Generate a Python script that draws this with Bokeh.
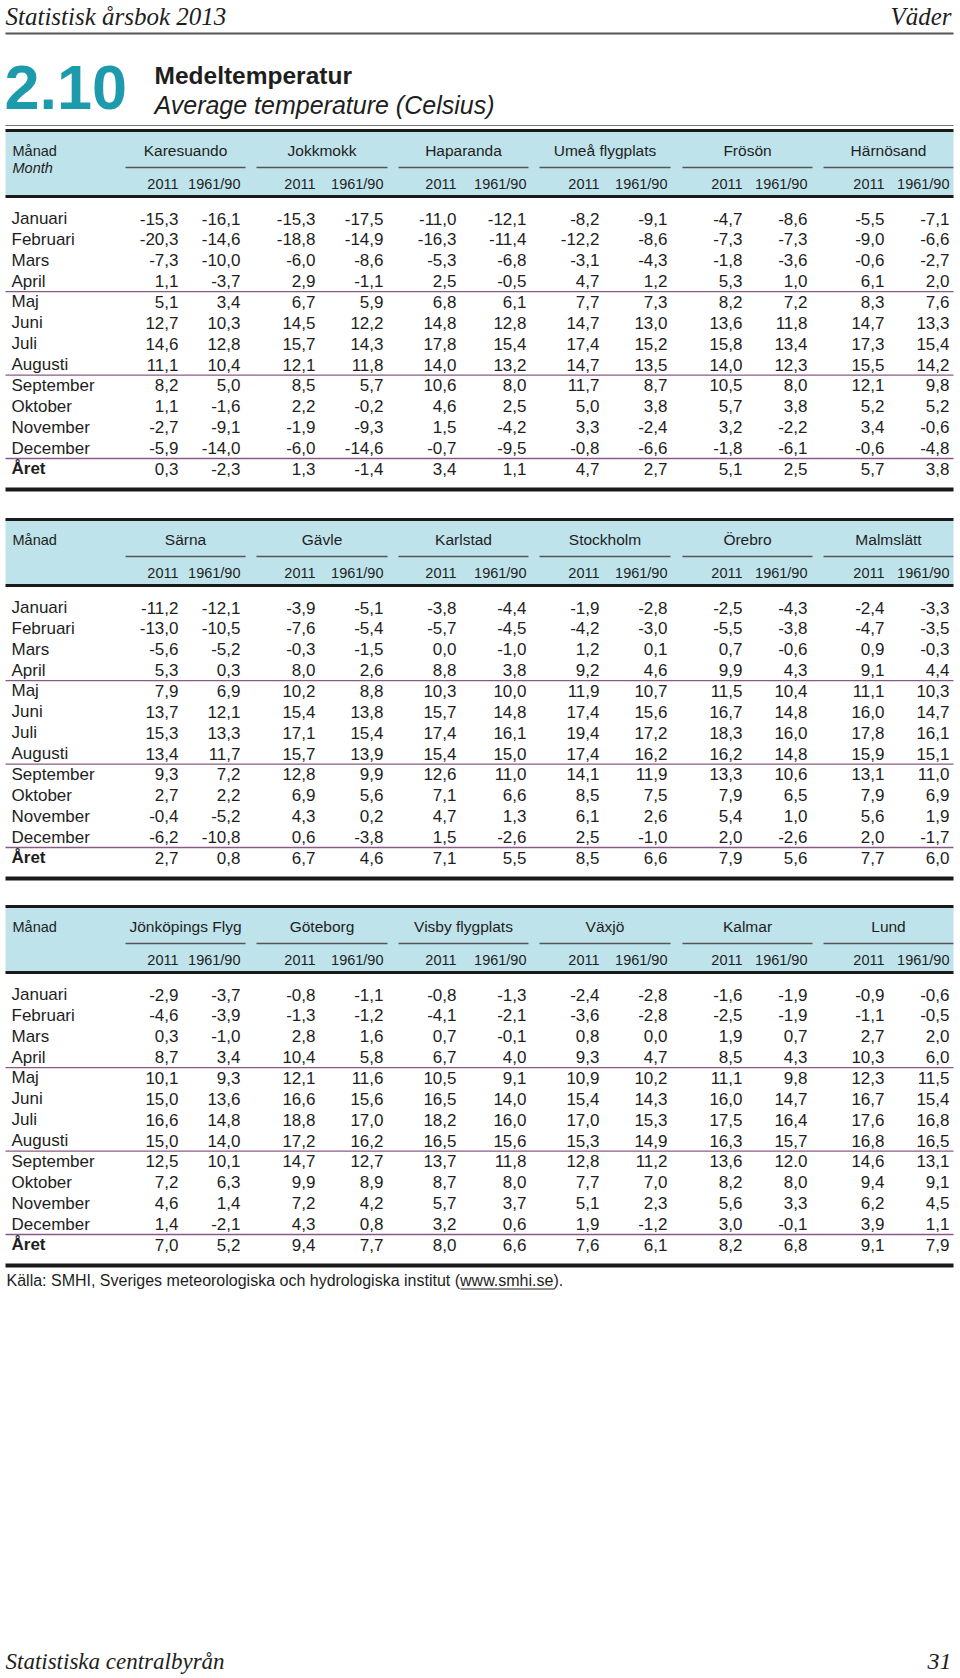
from bokeh.plotting import figure
from bokeh.models import Range1d, ColumnDataSource
from bokeh.core.properties import value
from bokeh.embed import file_html
from bokeh.resources import INLINE

# ---------------- data ----------------
months = ["Januari", "Februari", "Mars", "April", "Maj", "Juni", "Juli",
          "Augusti", "September", "Oktober", "November", "December", "Året"]

t1_stations = ["Karesuando", "Jokkmokk", "Haparanda", "Umeå flygplats", "Frösön", "Härnösand"]
karesuando_2011 = [-15.3, -20.3, -7.3, 1.1, 5.1, 12.7, 14.6, 11.1, 8.2, 1.1, -2.7, -5.9, 0.3]
karesuando_6190 = [-16.1, -14.6, -10.0, -3.7, 3.4, 10.3, 12.8, 10.4, 5.0, -1.6, -9.1, -14.0, -2.3]
jokkmokk_2011 = [-15.3, -18.8, -6.0, 2.9, 6.7, 14.5, 15.7, 12.1, 8.5, 2.2, -1.9, -6.0, 1.3]
jokkmokk_6190 = [-17.5, -14.9, -8.6, -1.1, 5.9, 12.2, 14.3, 11.8, 5.7, -0.2, -9.3, -14.6, -1.4]
haparanda_2011 = [-11.0, -16.3, -5.3, 2.5, 6.8, 14.8, 17.8, 14.0, 10.6, 4.6, 1.5, -0.7, 3.4]
haparanda_6190 = [-12.1, -11.4, -6.8, -0.5, 6.1, 12.8, 15.4, 13.2, 8.0, 2.5, -4.2, -9.5, 1.1]
umea_2011 = [-8.2, -12.2, -3.1, 4.7, 7.7, 14.7, 17.4, 14.7, 11.7, 5.0, 3.3, -0.8, 4.7]
umea_6190 = [-9.1, -8.6, -4.3, 1.2, 7.3, 13.0, 15.2, 13.5, 8.7, 3.8, -2.4, -6.6, 2.7]
froson_2011 = [-4.7, -7.3, -1.8, 5.3, 8.2, 13.6, 15.8, 14.0, 10.5, 5.7, 3.2, -1.8, 5.1]
froson_6190 = [-8.6, -7.3, -3.6, 1.0, 7.2, 11.8, 13.4, 12.3, 8.0, 3.8, -2.2, -6.1, 2.5]
harnosand_2011 = [-5.5, -9.0, -0.6, 6.1, 8.3, 14.7, 17.3, 15.5, 12.1, 5.2, 3.4, -0.6, 5.7]
harnosand_6190 = [-7.1, -6.6, -2.7, 2.0, 7.6, 13.3, 15.4, 14.2, 9.8, 5.2, -0.6, -4.8, 3.8]

t2_stations = ["Särna", "Gävle", "Karlstad", "Stockholm", "Örebro", "Malmslätt"]
sarna_2011 = [-11.2, -13.0, -5.6, 5.3, 7.9, 13.7, 15.3, 13.4, 9.3, 2.7, -0.4, -6.2, 2.7]
sarna_6190 = [-12.1, -10.5, -5.2, 0.3, 6.9, 12.1, 13.3, 11.7, 7.2, 2.2, -5.2, -10.8, 0.8]
gavle_2011 = [-3.9, -7.6, -0.3, 8.0, 10.2, 15.4, 17.1, 15.7, 12.8, 6.9, 4.3, 0.6, 6.7]
gavle_6190 = [-5.1, -5.4, -1.5, 2.6, 8.8, 13.8, 15.4, 13.9, 9.9, 5.6, 0.2, -3.8, 4.6]
karlstad_2011 = [-3.8, -5.7, 0.0, 8.8, 10.3, 15.7, 17.4, 15.4, 12.6, 7.1, 4.7, 1.5, 7.1]
karlstad_6190 = [-4.4, -4.5, -1.0, 3.8, 10.0, 14.8, 16.1, 15.0, 11.0, 6.6, 1.3, -2.6, 5.5]
stockholm_2011 = [-1.9, -4.2, 1.2, 9.2, 11.9, 17.4, 19.4, 17.4, 14.1, 8.5, 6.1, 2.5, 8.5]
stockholm_6190 = [-2.8, -3.0, 0.1, 4.6, 10.7, 15.6, 17.2, 16.2, 11.9, 7.5, 2.6, -1.0, 6.6]
orebro_2011 = [-2.5, -5.5, 0.7, 9.9, 11.5, 16.7, 18.3, 16.2, 13.3, 7.9, 5.4, 2.0, 7.9]
orebro_6190 = [-4.3, -3.8, -0.6, 4.3, 10.4, 14.8, 16.0, 14.8, 10.6, 6.5, 1.0, -2.6, 5.6]
malmslatt_2011 = [-2.4, -4.7, 0.9, 9.1, 11.1, 16.0, 17.8, 15.9, 13.1, 7.9, 5.6, 2.0, 7.7]
malmslatt_6190 = [-3.3, -3.5, -0.3, 4.4, 10.3, 14.7, 16.1, 15.1, 11.0, 6.9, 1.9, -1.7, 6.0]

t3_stations = ["Jönköpings Flyg", "Göteborg", "Visby flygplats", "Växjö", "Kalmar", "Lund"]
jonkoping_2011 = [-2.9, -4.6, 0.3, 8.7, 10.1, 15.0, 16.6, 15.0, 12.5, 7.2, 4.6, 1.4, 7.0]
jonkoping_6190 = [-3.7, -3.9, -1.0, 3.4, 9.3, 13.6, 14.8, 14.0, 10.1, 6.3, 1.4, -2.1, 5.2]
goteborg_2011 = [-0.8, -1.3, 2.8, 10.4, 12.1, 16.6, 18.8, 17.2, 14.7, 9.9, 7.2, 4.3, 9.4]
goteborg_6190 = [-1.1, -1.2, 1.6, 5.8, 11.6, 15.6, 17.0, 16.2, 12.7, 8.9, 4.2, 0.8, 7.7]
visby_2011 = [-0.8, -4.1, 0.7, 6.7, 10.5, 16.5, 18.2, 16.5, 13.7, 8.7, 5.7, 3.2, 8.0]
visby_6190 = [-1.3, -2.1, -0.1, 4.0, 9.1, 14.0, 16.0, 15.6, 11.8, 8.0, 3.7, 0.6, 6.6]
vaxjo_2011 = [-2.4, -3.6, 0.8, 9.3, 10.9, 15.4, 17.0, 15.3, 12.8, 7.7, 5.1, 1.9, 7.6]
vaxjo_6190 = [-2.8, -2.8, 0.0, 4.7, 10.2, 14.3, 15.3, 14.9, 11.2, 7.0, 2.3, -1.2, 6.1]
kalmar_2011 = [-1.6, -2.5, 1.9, 8.5, 11.1, 16.0, 17.5, 16.3, 13.6, 8.2, 5.6, 3.0, 8.2]
kalmar_6190 = [-1.9, -1.9, 0.7, 4.3, 9.8, 14.7, 16.4, 15.7, 12.0, 8.0, 3.3, -0.1, 6.8]
lund_2011 = [-0.9, -1.1, 2.7, 10.3, 12.3, 16.7, 17.6, 16.8, 14.6, 9.4, 6.2, 3.9, 9.1]
lund_6190 = [-0.6, -0.5, 2.0, 6.0, 11.5, 15.4, 16.8, 16.5, 13.1, 9.1, 4.5, 1.1, 7.9]

period_labels = ["2011", "1961/90"]
# the printed table shows this one value with a decimal point
print_overrides = {("Kalmar", "1961/90", "September"): "12.0"}

tables = [
    (t1_stations, [(karesuando_2011, karesuando_6190), (jokkmokk_2011, jokkmokk_6190),
                   (haparanda_2011, haparanda_6190), (umea_2011, umea_6190),
                   (froson_2011, froson_6190), (harnosand_2011, harnosand_6190)], True),
    (t2_stations, [(sarna_2011, sarna_6190), (gavle_2011, gavle_6190),
                   (karlstad_2011, karlstad_6190), (stockholm_2011, stockholm_6190),
                   (orebro_2011, orebro_6190), (malmslatt_2011, malmslatt_6190)], False),
    (t3_stations, [(jonkoping_2011, jonkoping_6190), (goteborg_2011, goteborg_6190),
                   (visby_2011, visby_6190), (vaxjo_2011, vaxjo_6190),
                   (kalmar_2011, kalmar_6190), (lund_2011, lund_6190)], False),
]

# ---------------- layout (page pixel coordinates) ----------------
W, H = 960, 1678
SANS = "Liberation Sans"
SERIF = "Liberation Serif"
TEXT = "#1e1e1e"
BAND = "#bfe3eb"
PURPLE = "#8a5a86"
TEAL = "#1d9bad"

col_a = [178, 315, 456, 599, 742, 884]      # right edge of "2011" column
col_b = [240, 383, 526, 667, 807, 949]      # right edge of "1961/90" column
grp = [(125, 245), (256, 387), (398, 528), (539, 670), (682, 812), (823, 953)]
table_tops = [130, 519, 906]
LEFT, RIGHT = 5, 953
ROW0, STEP = 88, 20.87

p = figure(width=W, height=H, x_range=Range1d(0, W), y_range=Range1d(H, 0),
           output_backend="svg", toolbar_location=None, min_border=0,
           outline_line_color=None, background_fill_color="white")
p.axis.visible = False
p.grid.visible = False


def fmt(v):
    return f"{v:.1f}".replace(".", ",")


def txt(x, y, s, size, align="left", font=SANS, style="normal", color=TEXT):
    p.text(x=[x], y=[y], text=[s], text_font=value(font), text_font_size=f"{size}px",
           text_font_style=style, text_align=align, text_baseline="middle", text_color=color)


# page header
txt(5, 16, "Statistisk årsbok 2013", 25, font=SERIF, style="italic")
txt(951, 16, "Väder", 25, align="right", font=SERIF, style="italic")
p.segment(x0=[LEFT], x1=[RIGHT], y0=[33], y1=[33], line_color="#555555", line_width=2)

txt(4, 87, "2.10", 63, font=SANS, style="bold", color=TEAL)
txt(154, 75, "Medeltemperatur", 24.5, style="bold")
txt(154, 104, "Average temperature (Celsius)", 25, style="italic")
p.segment(x0=[LEFT], x1=[RIGHT], y0=[125], y1=[125], line_color="#777777", line_width=1)

for (stations, series, has_month), top in zip(tables, table_tops):
    band_bottom = top + 66
    p.quad(left=[LEFT], right=[RIGHT], top=[top], bottom=[band_bottom],
           fill_color=BAND, line_color=None)
    p.segment(x0=[LEFT, LEFT], x1=[RIGHT, RIGHT], y0=[top, band_bottom],
              y1=[top, band_bottom], line_color="#1a1a1a", line_width=3)
    txt(12, top + 20, "Månad", 14.5)
    if has_month:
        txt(12, top + 37, "Month", 14.5, style="italic")
    for i, name in enumerate(stations):
        g0, g1 = grp[i]
        txt((g0 + g1) / 2, top + 20, name, 15.5, align="center")
        p.segment(x0=[g0], x1=[g1], y0=[top + 37], y1=[top + 37],
                  line_color="#555555", line_width=1.6)
        txt(col_a[i], top + 53, period_labels[0], 14.5, align="right")
        txt(col_b[i], top + 53, period_labels[1], 14.5, align="right")

    ys = [top + ROW0 + k * STEP for k in range(len(months))]
    # separators
    for k in (3, 7, 11):
        yy = (ys[k] + ys[k + 1]) / 2
        p.segment(x0=[LEFT], x1=[RIGHT], y0=[yy], y1=[yy], line_color=PURPLE, line_width=1.3)
    bottom = ys[-1] + 20.5
    p.segment(x0=[LEFT], x1=[RIGHT], y0=[bottom], y1=[bottom], line_color="#1a1a1a", line_width=4)

    # month labels
    src_m = ColumnDataSource(dict(x=[11] * 12, y=ys[:12], t=months[:12]))
    p.text(x="x", y="y", text="t", source=src_m, text_font=value(SANS), text_font_size="17px",
           text_align="left", text_baseline="middle", text_color=TEXT)
    txt(11, ys[12], months[12], 17, style="bold")

    xs, yv, tv = [], [], []
    for i, (a, b) in enumerate(series):
        for j, (col, vals) in enumerate(((col_a[i], a), (col_b[i], b))):
            for k, v in enumerate(vals):
                s = print_overrides.get((stations[i], period_labels[j], months[k]), fmt(v))
                xs.append(col)
                yv.append(ys[k])
                tv.append(s)
    src = ColumnDataSource(dict(x=xs, y=yv, t=tv))
    p.text(x="x", y="y", text="t", source=src, text_font=value(SANS), text_font_size="17px",
           text_align="right", text_baseline="middle", text_color=TEXT)

# source note
src_text = "Källa: SMHI, Sveriges meteorologiska och hydrologiska institut (www.smhi.se)."
txt(6, 1280, src_text, 16)
p.segment(x0=[460], x1=[554], y0=[1288.5], y1=[1288.5], line_color=TEXT, line_width=1)

# page footer
txt(5, 1661, "Statistiska centralbyrån", 23, font=SERIF, style="italic")
txt(951, 1661, "31", 24, align="right", font=SERIF, style="italic")

open("out.html", "w").write(file_html(p, INLINE))
